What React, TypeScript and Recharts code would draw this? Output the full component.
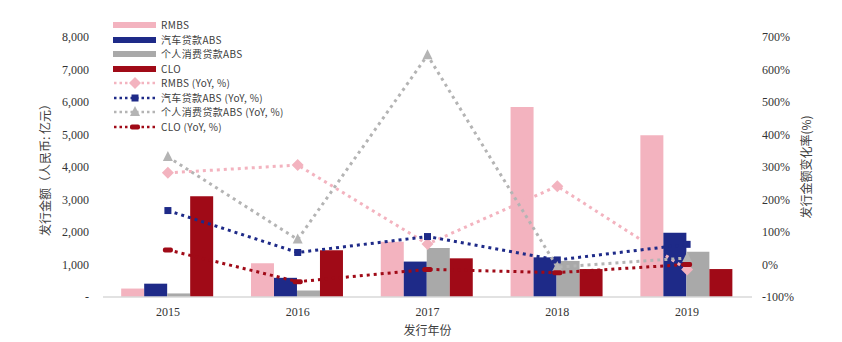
import { Bar, ComposedChart, Line, XAxis, YAxis } from "recharts";

const years = ["2015", "2016", "2017", "2018", "2019"];

// issuance, 亿元
const rmbs = [260, 1040, 1700, 5850, 4980];
const autoAbs = [410, 590, 1090, 1220, 1980];
const consumerAbs = [110, 200, 1510, 1110, 1390];
const clo = [3100, 1440, 1190, 860, 860];

// YoY, %
const rmbsYoy = [282, 306, 63, 241, -15];
const autoYoy = [166, 37, 86, 14, 62];
const consumerYoy = [331, 77, 644, -8, 20];
const cloYoy = [45, -53, -15, -25, 0];

const leftTicks = [0, 1000, 2000, 3000, 4000, 5000, 6000, 7000, 8000];
const rightTicks = [-100, 0, 100, 200, 300, 400, 500, 600, 700];

const PINK = "#F3B3BF";
const NAVY = "#1E2A88";
const GRAY = "#A9A9A9";
const RED = "#A00A17";
const LINE_GRAY = "#B4B4B4";

const SERIF = "'Liberation Serif', 'Times New Roman', serif";
const SANS = "'Noto Sans CJK SC', 'Noto Sans', sans-serif";

const data = years.map((year, i) => ({
  year,
  rmbs: rmbs[i],
  autoAbs: autoAbs[i],
  consumerAbs: consumerAbs[i],
  clo: clo[i],
  rmbsYoy: rmbsYoy[i],
  autoYoy: autoYoy[i],
  consumerYoy: consumerYoy[i],
  cloYoy: cloYoy[i],
}));

type DotProps = { cx?: number; cy?: number; index?: number };
type Marker = "diamond" | "square" | "triangle" | "dash";

const drawMarker = (kind: Marker, cx: number, cy: number, color: string, key?: string) => {
  if (kind === "diamond")
    return <polygon key={key} points={`${cx},${cy - 6} ${cx + 6},${cy} ${cx},${cy + 6} ${cx - 6},${cy}`} fill={color} />;
  if (kind === "square")
    return <rect key={key} x={cx - 3.5} y={cy - 3.5} width={7} height={7} fill={color} />;
  if (kind === "triangle")
    return <polygon key={key} points={`${cx},${cy - 6} ${cx + 5},${cy + 4} ${cx - 5},${cy + 4}`} fill={color} />;
  return <rect key={key} x={cx - 5} y={cy - 2.5} width={10} height={5} rx={2} fill={color} />;
};

const dotOf = (kind: Marker, color: string) => (p: DotProps) =>
  drawMarker(kind, p.cx ?? 0, p.cy ?? 0, color, `m-${kind}-${p.index}`);

const legendItems: { name: string; color: string; marker?: Marker }[] = [
  { name: "RMBS", color: PINK },
  { name: "汽车贷款ABS", color: NAVY },
  { name: "个人消费贷款ABS", color: GRAY },
  { name: "CLO", color: RED },
  { name: "RMBS (YoY, %)", color: PINK, marker: "diamond" },
  { name: "汽车贷款ABS (YoY, %)", color: NAVY, marker: "square" },
  { name: "个人消费贷款ABS (YoY, %)", color: LINE_GRAY, marker: "triangle" },
  { name: "CLO (YoY, %)", color: RED, marker: "dash" },
];

const ChartLegend = () => (
  <div
    style={{
      position: "absolute",
      left: 113,
      top: 18,
      fontFamily: SANS,
      fontSize: 10,
      letterSpacing: 0.35,
      color: "#404040",
    }}
  >
    {legendItems.map((it) => (
      <div key={it.name} style={{ display: "flex", alignItems: "center", height: 14.5, lineHeight: "14.5px" }}>
        <svg width={44} height={12} style={{ marginRight: 4 }}>
          {it.marker ? (
            <>
              <line x1={1} y1={6} x2={43} y2={6} stroke={it.color} strokeWidth={2.5} strokeDasharray="2.5 3" />
              {drawMarker(it.marker, 22, 6, it.color)}
            </>
          ) : (
            <rect x={0} y={3} width={43} height={6} fill={it.color} />
          )}
        </svg>
        <span>{it.name}</span>
      </div>
    ))}
  </div>
);

export default function App() {
  return (
    <div style={{ position: "absolute", left: 0, top: 0, width: 842, height: 342, background: "#fff" }}>
      <ComposedChart
        width={842}
        height={342}
        data={data}
        margin={{ top: 37, right: 0, left: 0, bottom: 0 }}
        barCategoryGap="14%"
        barGap={0}
      >
        <XAxis
          dataKey="year"
          height={45}
          axisLine={{ stroke: "#D9D9D9", strokeWidth: 1.5 }}
          tickLine={false}
          tickSize={0}
          tickMargin={10}
          tick={{ fontFamily: SERIF, fontSize: 12, fill: "#333" }}
          label={{
            value: "发行年份",
            position: "insideBottom",
            offset: 7,
            style: { fontFamily: SANS, fontSize: 12, fill: "#404040" },
          }}
        />
        <YAxis
          yAxisId="left"
          width={103}
          domain={[0, 8000]}
          ticks={leftTicks}
          interval={0}
          axisLine={false}
          tickLine={false}
          tickSize={0}
          tickMargin={14}
          tickFormatter={(v: number) => (v === 0 ? "-    " : v.toLocaleString("en-US"))}
          tick={{ fontFamily: SERIF, fontSize: 12, fill: "#333" }}
          label={{
            value: "发行金额（人民币: 亿元）",
            angle: -90,
            position: "insideLeft",
            offset: 46,
            style: { fontFamily: SANS, fontSize: 12, fill: "#404040", textAnchor: "middle" },
          }}
        />
        <YAxis
          yAxisId="right"
          orientation="right"
          width={90}
          domain={[-100, 700]}
          ticks={rightTicks}
          interval={0}
          axisLine={false}
          tickLine={false}
          tickSize={0}
          tickMargin={10}
          tickFormatter={(v: number) => `${v}%`}
          tick={{ fontFamily: SERIF, fontSize: 12, fill: "#333" }}
          label={{
            value: "发行金额变化率(%)",
            angle: -90,
            position: "insideRight",
            offset: 35,
            style: { fontFamily: SANS, fontSize: 12, fill: "#404040", textAnchor: "middle" },
          }}
        />
        <Bar yAxisId="left" dataKey="rmbs" name="RMBS" fill={PINK} isAnimationActive={false} />
        <Bar yAxisId="left" dataKey="autoAbs" name="汽车贷款ABS" fill={NAVY} isAnimationActive={false} />
        <Bar yAxisId="left" dataKey="consumerAbs" name="个人消费贷款ABS" fill={GRAY} isAnimationActive={false} />
        <Bar yAxisId="left" dataKey="clo" name="CLO" fill={RED} isAnimationActive={false} />
        <Line yAxisId="right" type="linear" dataKey="rmbsYoy" stroke={PINK} strokeWidth={3} strokeDasharray="3 4"
          dot={dotOf("diamond", PINK)} activeDot={false} isAnimationActive={false} />
        <Line yAxisId="right" type="linear" dataKey="autoYoy" stroke={NAVY} strokeWidth={3} strokeDasharray="3 4"
          dot={dotOf("square", NAVY)} activeDot={false} isAnimationActive={false} />
        <Line yAxisId="right" type="linear" dataKey="consumerYoy" stroke={LINE_GRAY} strokeWidth={3} strokeDasharray="3 4"
          dot={dotOf("triangle", LINE_GRAY)} activeDot={false} isAnimationActive={false} />
        <Line yAxisId="right" type="linear" dataKey="cloYoy" stroke={RED} strokeWidth={3} strokeDasharray="3 4"
          dot={dotOf("dash", RED)} activeDot={false} isAnimationActive={false} />
      </ComposedChart>
      <ChartLegend />
    </div>
  );
}
